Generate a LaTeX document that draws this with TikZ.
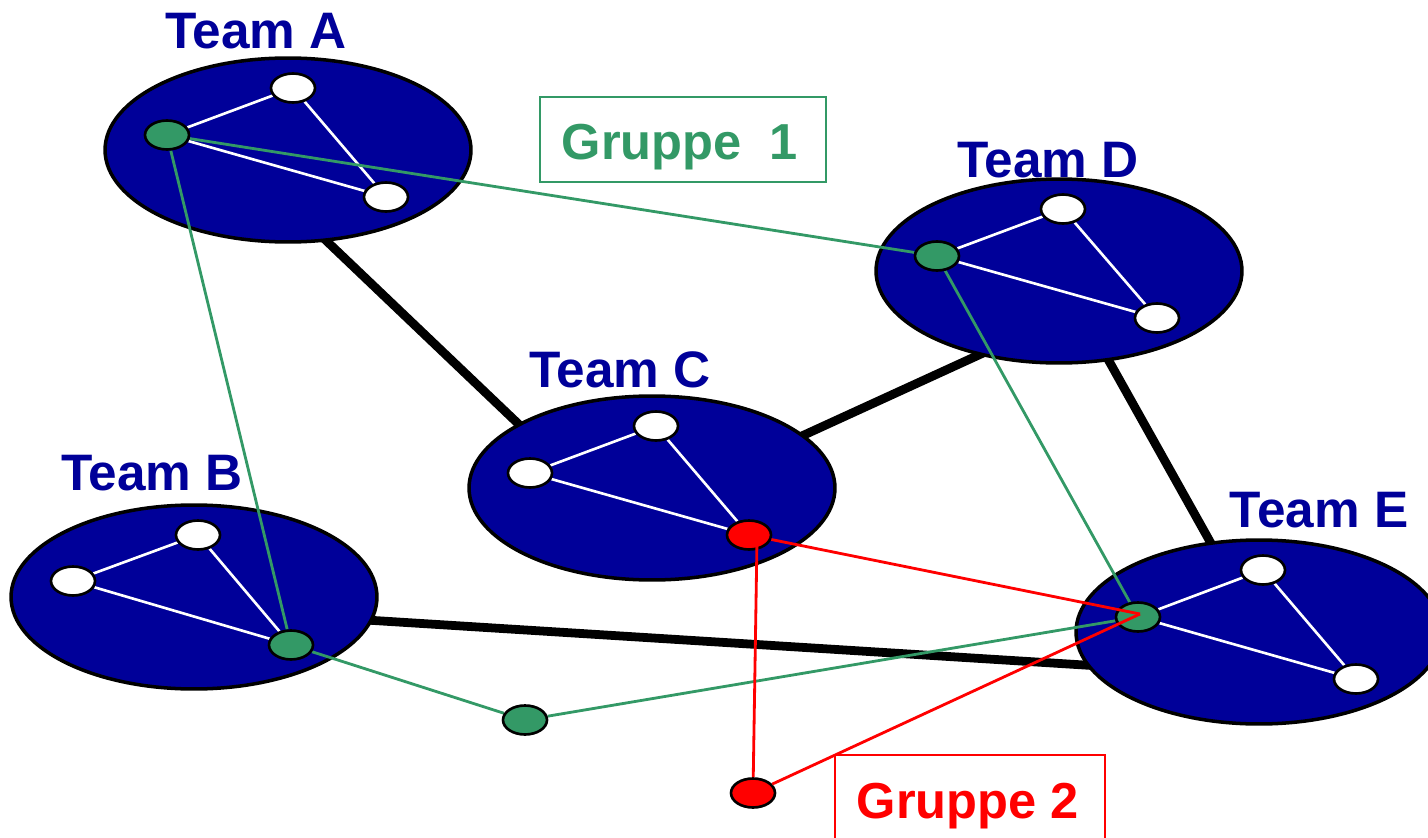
\documentclass[tikz,border=0pt]{standalone}
\usepackage{fontspec}
\setmainfont{Liberation Sans}
\usetikzlibrary{shapes.geometric}
\definecolor{teamblue}{HTML}{000099}
\definecolor{grpgreen}{HTML}{339966}
\definecolor{grpred}{HTML}{FF0000}
\pgfdeclarelayer{back}
\pgfdeclarelayer{teams}
\pgfdeclarelayer{wires}
\pgfdeclarelayer{top}
\pgfsetlayers{back,teams,wires,main,top}

\begin{document}
\begin{tikzpicture}[x=0.02cm,y=-0.02cm,
  team/.style={ellipse, draw=black, fill=teamblue, line width=2pt,
    minimum width=7.32cm, minimum height=3.68cm, inner sep=0pt},
  member/.style={ellipse, draw=black, fill=white, line width=1.5pt,
    minimum width=0.88cm, minimum height=0.58cm, inner sep=0pt},
  liaison/.style={member, fill=grpgreen},
  redmember/.style={member, fill=grpred},
  teamlink/.style={line width=5pt, black},
  inner/.style={white, line width=1.5pt},
  gline/.style={grpgreen, line width=1.6pt},
  rline/.style={grpred, line width=1.6pt},
  title/.style={font=\bfseries\fontsize{29.2}{31}\selectfont, text=teamblue, anchor=base, inner sep=0pt},
  grptext/.style={font=\bfseries\fontsize{28.8}{31}\selectfont, anchor=base, inner sep=0pt},
]
\useasboundingbox (0,0) rectangle (1428,838);
\clip (0,0) rectangle (1428,838);

% team ellipses
\begin{pgfonlayer}{teams}
  \node[team] (A) at (288,150) {};
  \node[team] (B) at (194,597) {};
  \node[team] (C) at (652,488) {};
  \node[team] (D) at (1059,271) {};
  \node[team] (E) at (1259,632) {};
\end{pgfonlayer}

% team titles
\node[title] (tA) at (256,49) {Team A};
\node[title] (tB) at (152,490) {Team B};
\node[title] (tC) at (620,387) {Team C};
\node[title] (tD) at (1048,177) {Team D};
\node[title] (tE) at (1319,527) {Team E};

% members of each team
\node[liaison] (Aa) at (167,135) {};
\node[member]  (Ab) at (293,88) {};
\node[member]  (Ac) at (386,197) {};
\node[member]  (Ba) at (73,581) {};
\node[member]  (Bb) at (198,535) {};
\node[liaison] (Bc) at (291,645) {};
\node[member]  (Ca) at (530,473) {};
\node[member]  (Cb) at (656,426) {};
\node[redmember] (Cc) at (749,535) {};
\node[liaison] (Da) at (937,256) {};
\node[member]  (Db) at (1063,209) {};
\node[member]  (Dc) at (1157,318) {};
\node[liaison] (Ea) at (1138,617) {};
\node[member]  (Eb) at (1263,570) {};
\node[member]  (Ec) at (1356,679) {};

% members outside the teams
\node[liaison] (Fg) at (525,720) {};
\node[redmember] (Fr) at (753,793) {};

% group labels
\node[draw=grpgreen, line width=1pt, minimum width=5.72cm, minimum height=1.7cm, inner sep=0pt] (G1box) at (683,139.5) {};
\node[grptext, text=grpgreen] (G1) at (680,160) {Gruppe\ \ 1};
\coordinate (G2a) at (835,755);
\coordinate (G2b) at (1105,860);
\draw[grpred, line width=1pt] (G2a) rectangle (G2b);
\node[grptext, text=grpred] (G2) at (968,818) {Gruppe 2};

% anchor points of the thick links, inside the ellipses
\coordinate (lAC1) at (315,230);
\coordinate (lAC2) at (530,435);
\coordinate (lCD1) at (780,446);
\coordinate (lCD2) at (1005,343);
\coordinate (lDE1) at (1100,345);
\coordinate (lDE2) at (1222,563);
\coordinate (lBE1) at (350,619);
\coordinate (lBE2) at (1100,666);
\coordinate (Ex) at (1140,614);
\coordinate (Cx) at (757,540);

\begin{pgfonlayer}{back}
  \draw[teamlink] (lAC1) -- (lAC2);
  \draw[teamlink] (lCD1) -- (lCD2);
  \draw[teamlink] (lDE1) -- (lDE2);
  \draw[teamlink] (lBE1) -- (lBE2);
\end{pgfonlayer}

\begin{pgfonlayer}{wires}
  % links within each team
  \foreach \t in {A,B,C,D,E}{
    \draw[inner] (\t a) -- (\t b);
    \draw[inner] (\t a) -- (\t c);
    \draw[inner] (\t b) -- (\t c);
  }
  % group 1
  \draw[gline] (Aa) -- (Da);
  \draw[gline] (Aa) -- (Bc);
  \draw[gline] (Da) -- (Ea);
  \draw[gline] (Bc) -- (Fg);
  \draw[gline] (Fg) -- (Ea);
\end{pgfonlayer}

\begin{pgfonlayer}{top}
  % group 2
  \draw[rline] (Cc) -- (Ex);
  \draw[rline] (Cx) -- (Fr);
  \draw[rline] (Fr) -- (Ex);
\end{pgfonlayer}
\end{tikzpicture}
\end{document}
